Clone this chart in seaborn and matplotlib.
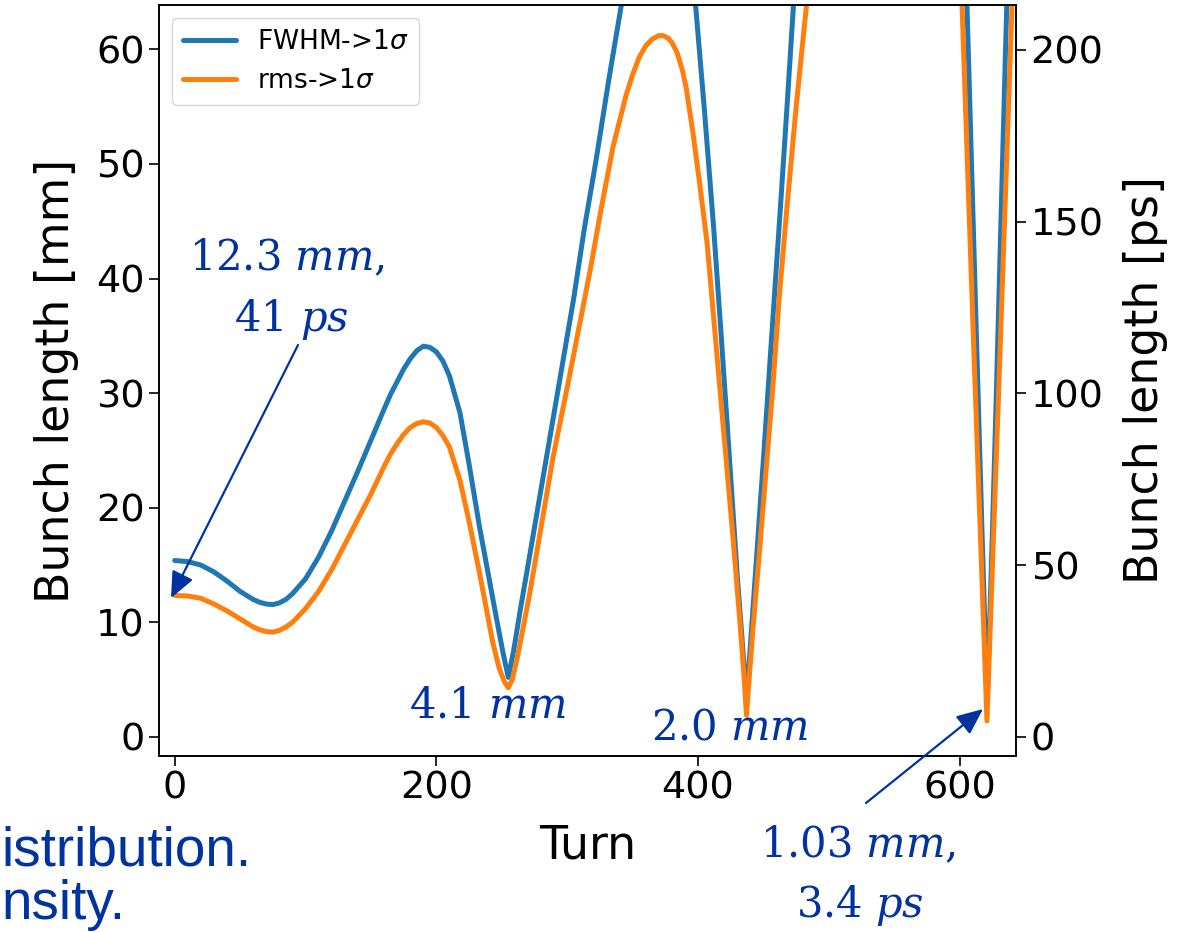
import numpy as np
import pandas as pd
import matplotlib
matplotlib.use("Agg")
import matplotlib.pyplot as plt
import matplotlib.patches as mpatches
import seaborn as sns

# ---------------- data ----------------
turn_fwhm = [0, 10, 20, 30, 40, 50, 60, 65, 70, 75, 80, 85, 90, 100, 110, 120, 130, 140,
             150, 160, 165, 170, 175, 180, 185, 190, 195, 200, 205, 210, 218, 225, 233,
             240, 246, 251, 255, 259, 264, 269, 278, 287, 296, 305, 313, 322, 332, 342,
             355, 370, 385, 398, 405, 412, 418, 424, 430, 434, 437, 440, 444, 450, 456,
             463, 468, 473, 480, 500, 530, 560, 585, 605.5, 613, 617, 621, 625, 628, 635,
             640]
fwhm_mm = [15.4, 15.3, 15.0, 14.4, 13.6, 12.7, 12.0, 11.75, 11.6, 11.55, 11.7, 12.0, 12.5,
           13.8, 15.7, 18.0, 20.6, 23.2, 25.9, 28.6, 29.9, 31.0, 32.1, 33.0, 33.7, 34.1,
           34.0, 33.6, 32.8, 31.5, 28.3, 23.8, 18.3, 14.0, 10.3, 7.3, 5.2, 7.5, 11.0, 14.3,
           20.3, 26.3, 32.3, 38.3, 44.3, 50.3, 57.5, 64.3, 72.0, 75.0, 72.0, 64.0, 54.5,
           44.3, 34.5, 24.3, 14.0, 8.0, 3.2, 8.0, 14.5, 24.3, 34.5, 46.3, 55.0, 64.0, 75.0,
           100.0, 125.0, 130.0, 110.0, 64.0, 34.0, 18.0, 3.0, 18.0, 30.0, 60.0, 80.0]

turn_rms = [0, 10, 20, 30, 40, 50, 60, 65, 70, 75, 80, 85, 90, 100, 110, 120, 130, 140, 150,
            160, 165, 170, 175, 180, 185, 190, 195, 200, 205, 210, 218, 225, 233, 238, 243,
            248, 252, 255, 258, 262, 271, 280, 289, 300, 310, 318, 325, 335, 345, 350, 355,
            360, 365, 370, 373, 377, 380, 384, 388, 391, 396, 401, 407, 412, 417, 422, 427,
            432, 435, 437, 439, 442, 447, 452, 457, 462, 468, 475, 483, 495, 520, 550, 575,
            590, 601.7, 611, 616, 620.8, 625, 630, 635, 640, 645]
rms_mm = [12.35, 12.3, 12.1, 11.6, 11.0, 10.3, 9.6, 9.35, 9.2, 9.15, 9.3, 9.6, 10.0, 11.2,
          12.7, 14.6, 16.8, 19.0, 21.2, 23.6, 24.7, 25.6, 26.4, 27.0, 27.35, 27.5, 27.4,
          27.0, 26.3, 25.3, 22.4, 18.8, 14.3, 11.3, 8.3, 6.0, 4.8, 4.3, 5.0, 7.0, 12.3, 18.3,
          24.3, 30.5, 36.3, 41.0, 45.5, 51.5, 56.0, 57.8, 59.3, 60.3, 60.9, 61.2, 61.2, 61.0,
          60.6, 59.7, 58.2, 56.6, 52.8, 48.5, 43.0, 36.5, 30.0, 23.5, 17.0, 10.0, 5.5, 1.9,
          5.0, 9.5, 16.3, 23.3, 30.3, 38.3, 46.3, 55.0, 64.0, 78.0, 95.0, 102.0, 95.0, 82.0,
          64.0, 33.0, 17.0, 1.4, 15.0, 31.0, 47.5, 64.0, 80.0]

series_labels = ["FWHM->1$\\sigma$", "rms->1$\\sigma$"]
left_ticks = [0, 10, 20, 30, 40, 50, 60]
right_ticks = [0, 50, 100, 150, 200]
x_ticks = [0, 200, 400, 600]
MM_TO_PS = 3.3356

ANN = "#0033A0"

# ---------------- style ----------------
sns.set_style("ticks")
plt.rcParams["font.family"] = ["DejaVu Sans"]
plt.rcParams.update({"text.color": "black", "axes.labelcolor": "black",
                     "xtick.color": "black", "ytick.color": "black"})

W, H = 1186, 932
fig = plt.figure(figsize=(W / 100, H / 100), dpi=100)
ax = fig.add_axes([159 / W, 1 - 756 / H, (1016 - 159) / W, (756 - 5) / H])

df_f = pd.DataFrame({"turn": turn_fwhm, "mm": fwhm_mm})
df_r = pd.DataFrame({"turn": turn_rms, "mm": rms_mm})
sns.lineplot(data=df_f, x="turn", y="mm", ax=ax, color="#1f77b4", lw=3.6,
             label=series_labels[0], sort=True)
sns.lineplot(data=df_r, x="turn", y="mm", ax=ax, color="#ff7f0e", lw=3.6,
             label=series_labels[1], sort=True)
for ln in ax.get_lines():
    ln.set_solid_joinstyle("round")

ax.set_xlim(-12, 643)
ax.set_ylim(-1.66, 63.87)
ax.set_xticks(x_ticks)
ax.set_yticks(left_ticks)
ax.set_xlabel("Turn", fontsize=33, labelpad=12)
ax.set_ylabel("Bunch length [mm]", fontsize=33, labelpad=12)
ax.tick_params(axis="both", labelsize=27.5, length=7, width=1.2, color="black")

ax2 = ax.twinx()
ax2.set_ylim(-1.66 * MM_TO_PS, 63.87 * MM_TO_PS)
ax2.set_yticks(right_ticks)
ax2.set_ylabel("Bunch length [ps]", fontsize=33, labelpad=14)
ax2.tick_params(axis="y", labelsize=27.5, length=7, width=1.2, color="black")

for a in (ax, ax2):
    for s in a.spines.values():
        s.set_visible(True)
        s.set_color("black")
        s.set_linewidth(1.2)

leg = ax.legend(loc="upper left", fontsize=19, frameon=True)
leg.get_frame().set_edgecolor("#cccccc")
leg.get_frame().set_linewidth(1.0)

# ---------------- annotations ----------------
def ftext(x, y, s, size=30, **kw):
    fig.text(x / W, 1 - y / H, s, fontsize=size, color=ANN, ha="center", va="center",
             math_fontfamily="dejavuserif", **kw)

ftext(287, 258, r"$12.3\ mm,$")
ftext(291, 320, r"$41\ ps$")
ftext(488, 705, r"$4.1\ mm$")
ftext(730, 728, r"$2.0\ mm$")
ftext(858, 845, r"$1.03\ mm,$")
ftext(860, 905, r"$3.4\ ps$")

arrow_kw = dict(arrowstyle="-|>,head_length=0.8,head_width=0.35", color=ANN, lw=1.6,
                mutation_scale=20, shrinkA=0, shrinkB=0)
fig.add_artist(mpatches.FancyArrowPatch(
    (298 / W, 1 - 345 / H), (171 / W, 1 - 598 / H), transform=fig.transFigure, **arrow_kw))
fig.add_artist(mpatches.FancyArrowPatch(
    (866 / W, 1 - 803 / H), (983 / W, 1 - 709 / H), transform=fig.transFigure, **arrow_kw))

# slide text fragments at the bottom-left
fig.text(1 / W, 1 - 866 / H, "istribution.", fontsize=39.5, color=ANN, ha="left",
         va="baseline", family=["Liberation Sans", "DejaVu Sans"])
fig.text(1 / W, 1 - 919 / H, "nsity.", fontsize=39.5, color=ANN, ha="left",
         va="baseline", family=["Liberation Sans", "DejaVu Sans"])

fig.savefig("out.png", dpi=100)
